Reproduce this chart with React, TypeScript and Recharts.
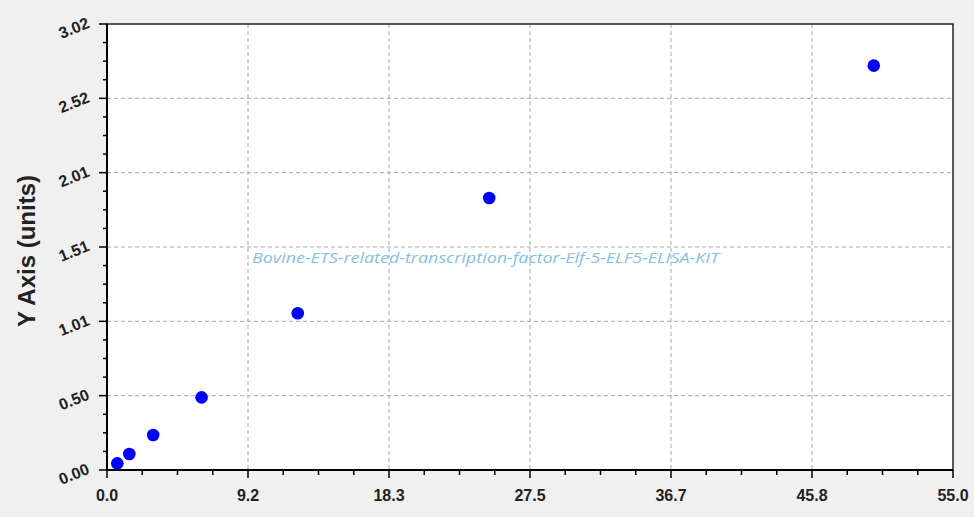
import React from 'react';
import { ScatterChart, Scatter, XAxis, YAxis, CartesianGrid, ReferenceArea } from 'recharts';

const xValues = [0.67, 1.45, 3.0, 6.15, 12.4, 24.85, 49.85];
const yValues = [0.045, 0.108, 0.237, 0.492, 1.061, 1.842, 2.738];

const xMax = 55;
const yMax = 3.02;
const xMajorLabels = ['0.0', '9.2', '18.3', '27.5', '36.7', '45.8', '55.0'];
const yMajorLabels = ['0.00', '0.50', '1.01', '1.51', '2.01', '2.52', '3.02'];
const minorPerMajor = 4;

const watermark = 'Bovine-ETS-related-transcription-factor-Elf-5-ELF5-ELISA-KIT';

const data = xValues.map((x, i) => ({ x, y: yValues[i] }));

const nMinor = (xMajorLabels.length - 1) * minorPerMajor;
const xStep = xMax / nMinor;
const yStep = yMax / nMinor;
const xTicks = Array.from({ length: nMinor + 1 }, (_, i) => i * xStep);
const yTicks = Array.from({ length: nMinor + 1 }, (_, i) => i * yStep);
const xGrid = xTicks.filter((_, i) => i % minorPerMajor === 0 && i > 0 && i < nMinor);
const yGrid = yTicks.filter((_, i) => i % minorPerMajor === 0 && i > 0 && i < nMinor);

const labelFont = {
  fontFamily: '"Liberation Sans", Arial, sans-serif',
  fontWeight: 700,
  fontSize: 16,
  fill: '#222',
};

const XTick = (props: any) => {
  const { x, y, payload } = props;
  const i = Math.round(payload.value / xStep);
  const major = i % minorPerMajor === 0;
  return (
    <g>
      <line x1={x} x2={x} y1={y} y2={y + (major ? 8 : 5)} stroke="#000" strokeWidth={1.5} />
      {major && (
        <text x={x} y={y + 25} textAnchor="middle" dominantBaseline="central" {...labelFont}>
          {xMajorLabels[i / minorPerMajor]}
        </text>
      )}
    </g>
  );
};

const YTick = (props: any) => {
  const { x, y, payload } = props;
  const i = Math.round(payload.value / yStep);
  const major = i % minorPerMajor === 0;
  const cx = x - 33;
  const cy = y + 4;
  return (
    <g>
      <line x1={x} x2={x - (major ? 8 : 4)} y1={y} y2={y} stroke="#000" strokeWidth={1.5} />
      {major && (
        <text
          x={cx}
          y={cy}
          textAnchor="middle"
          dominantBaseline="central"
          transform={`rotate(-22 ${cx} ${cy})`}
          {...labelFont}
        >
          {yMajorLabels[i / minorPerMajor]}
        </text>
      )}
    </g>
  );
};

const YTitle = (props: any) => {
  const vb = props.viewBox || { x: 0, y: 24, width: 107, height: 446 };
  const cx = 26;
  const cy = vb.y + vb.height / 2 + 4;
  return (
    <text
      x={cx}
      y={cy}
      textAnchor="middle"
      dominantBaseline="central"
      transform={`rotate(-90 ${cx} ${cy})`}
      fontFamily='"Liberation Sans", Arial, sans-serif'
      fontWeight={700}
      fontSize={24}
      fill="#222"
    >
      Y Axis (units)
    </text>
  );
};

const Dot = (props: any) => {
  const { cx, cy } = props;
  return <circle cx={cx} cy={cy} r={6.3} fill="#0000FF" />;
};

export default function App() {
  return (
    <div style={{ position: 'absolute', left: 0, top: 0, width: 974, height: 517, background: '#f0f0f0' }}>
      <ScatterChart width={974} height={517} margin={{ top: 24, right: 21, bottom: 0, left: 0 }}>
        <CartesianGrid
          fill="#ffffff"
          stroke="#a8a8a8"
          strokeDasharray="4 3"
          horizontalValues={yGrid}
          verticalValues={xGrid}
        />
        <XAxis
          type="number"
          dataKey="x"
          domain={[0, xMax]}
          ticks={xTicks}
          interval={0}
          allowDataOverflow
          height={47}
          tickSize={0}
          tickMargin={0}
          tickLine={false}
          tick={<XTick />}
          axisLine={{ stroke: '#000', strokeWidth: 2 }}
        />
        <YAxis
          type="number"
          dataKey="y"
          domain={[0, yMax]}
          ticks={yTicks}
          interval={0}
          allowDataOverflow
          width={107}
          tickSize={0}
          tickMargin={0}
          tickLine={false}
          tick={<YTick />}
          axisLine={{ stroke: '#000', strokeWidth: 2 }}
          label={<YTitle />}
        />
        <ReferenceArea x1={0} x2={xMax} y1={0} y2={yMax} fill="none" stroke="#222" strokeWidth={1.5} />
        <Scatter data={data} shape={<Dot />} isAnimationActive={false} />
      </ScatterChart>
      <svg width={974} height={517} style={{ position: 'absolute', left: 0, top: 0, pointerEvents: 'none' }}>
        <text
          x={485.5}
          y={263}
          textAnchor="middle"
          textLength={467}
          lengthAdjust="spacingAndGlyphs"
          fontFamily='"Open Sans", sans-serif'
          fontStyle="italic"
          fontSize={15}
          fill="#86bfea"
        >
          {watermark}
        </text>
      </svg>
    </div>
  );
}
